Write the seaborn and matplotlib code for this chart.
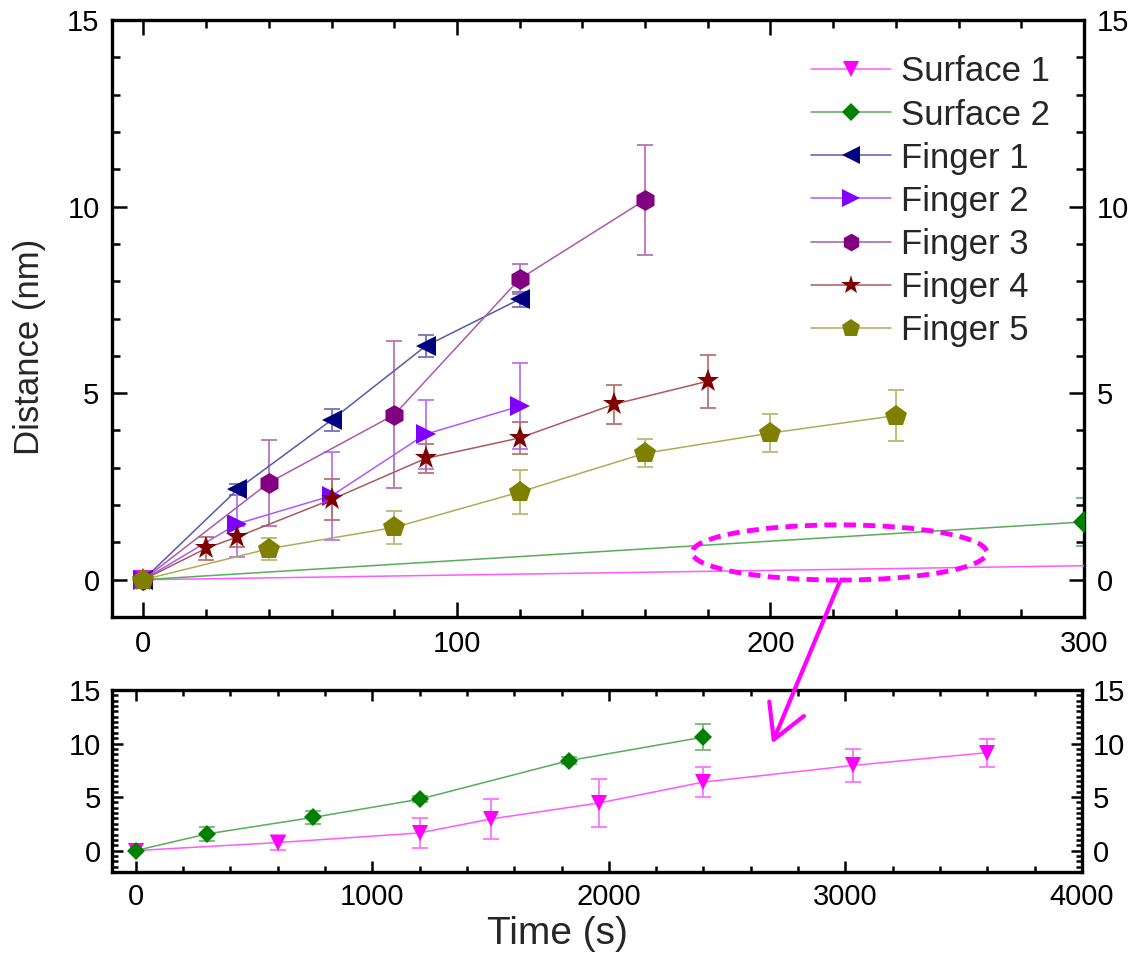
import seaborn as sns
import matplotlib.pyplot as plt
import matplotlib.colors as mcolors
from matplotlib.patches import Ellipse, ConnectionPatch
from matplotlib.ticker import MultipleLocator

# surface data (long time scale, s / nm)
surf1_t = [0, 600, 1200, 1500, 1960, 2400, 3030, 3600]
surf1_d = [0, 0.75, 1.65, 2.95, 4.45, 6.4, 7.95, 9.15]
surf1_err = [0, 0.7, 1.4, 1.85, 2.2, 1.4, 1.5, 1.3]

surf2_t = [0, 300, 750, 1200, 1830, 2400]
surf2_d = [0, 1.55, 3.1, 4.8, 8.4, 10.6]
surf2_err = [0, 0.65, 0.6, 0.3, 0.3, 1.2]

# finger data (short time scale)
f1_t = [0, 30, 60, 90, 120]
f1_d = [0, 2.42, 4.28, 6.26, 7.52]
f1_err = [0, 0.15, 0.3, 0.3, 0.2]

f2_t = [0, 30, 60, 90, 120]
f2_d = [0, 1.5, 2.25, 3.9, 4.65]
f2_err = [0, 0.9, 1.18, 0.93, 1.15]

f3_t = [0, 40, 80, 120, 160]
f3_d = [0, 2.6, 4.42, 8.06, 10.18]
f3_err = [0, 1.15, 1.97, 0.4, 1.48]

f4_t = [0, 20, 30, 60, 90, 120, 150, 180]
f4_d = [0, 0.84, 1.15, 2.15, 3.25, 3.8, 4.7, 5.32]
f4_err = [0, 0.3, 0.28, 0.55, 0.39, 0.42, 0.53, 0.71]

f5_t = [0, 40, 80, 120, 160, 200, 240]
f5_d = [0, 0.83, 1.4, 2.35, 3.39, 3.93, 4.4]
f5_err = [0, 0.3, 0.43, 0.6, 0.37, 0.51, 0.68]

series = [
    ("Surface 1", surf1_t, surf1_d, surf1_err, "#FF00FF", "v", 14),
    ("Surface 2", surf2_t, surf2_d, surf2_err, "#008000", "D", 11),
    ("Finger 1", f1_t, f1_d, f1_err, "#000080", "<", 15),
    ("Finger 2", f2_t, f2_d, f2_err, "#8000FF", ">", 15),
    ("Finger 3", f3_t, f3_d, f3_err, "#800080", "h", 15),
    ("Finger 4", f4_t, f4_d, f4_err, "#800000", "*", 17),
    ("Finger 5", f5_t, f5_d, f5_err, "#808000", "p", 16),
]

sns.set_theme(style="ticks")
plt.rcParams['font.family'] = ['Liberation Sans', 'DejaVu Sans']

fig = plt.figure(figsize=(11.35, 9.55), dpi=100)
ax = fig.add_axes([0.0987, 0.3539, 0.8564, 0.6251])
ax2 = fig.add_axes([0.0987, 0.0869, 0.8546, 0.1906])


def light(c, f=0.45):
    r, g, b = mcolors.to_rgb(c)
    return (r + (1 - r) * f, g + (1 - g) * f, b + (1 - b) * f)


def draw(a, name, t, d, e, c, m, ms, label=True):
    a.errorbar(t, d, yerr=e, fmt='none', ecolor=light(c), elinewidth=1.3,
               capsize=6, capthick=1.3, zorder=2)
    sns.lineplot(x=t, y=d, ax=a, color=c, marker=m, markersize=ms,
                 markeredgewidth=0, linewidth=1.1,
                 label=name if label else None, legend=False, zorder=3)
    ln = a.lines[-1]
    ln.set_color(light(c, 0.35))
    ln.set_markerfacecolor(c)
    ln.set_markeredgecolor(c)


for name, t, d, e, c, m, ms in series:
    draw(ax, name, t, d, e, c, m, ms)

for name, t, d, e, c, m, ms in series[:2]:
    draw(ax2, name, t, d, e, c, m, ms * 0.85, label=False)

# top axes
ax.set_xlim(-10, 300)
ax.set_ylim(-1, 15)
ax.xaxis.set_major_locator(MultipleLocator(100))
ax.xaxis.set_minor_locator(MultipleLocator(20))
ax.yaxis.set_major_locator(MultipleLocator(5))
ax.yaxis.set_minor_locator(MultipleLocator(1))
ax.tick_params(which='both', direction='in', top=True, right=True,
               labelright=True, labelsize=21, width=1.8, colors='black', pad=9)
ax.tick_params(which='major', length=11)
ax.tick_params(which='minor', length=6)
ax.set_xlabel("")
ax.set_ylabel("Distance (nm)", fontsize=25)
ax.yaxis.set_label_coords(-0.068, 0.452)

# bottom axes
ax2.set_xlim(-100, 4000)
ax2.set_ylim(-2, 15)
ax2.xaxis.set_major_locator(MultipleLocator(1000))
ax2.xaxis.set_minor_locator(MultipleLocator(200))
ax2.yaxis.set_major_locator(MultipleLocator(5))
ax2.yaxis.set_minor_locator(MultipleLocator(0.5))
ax2.tick_params(which='both', direction='in', top=True, right=True,
                labelright=True, labelsize=21, width=1.8, colors='black', pad=8)
ax2.tick_params(which='major', length=8)
ax2.tick_params(which='minor', length=4)
ax2.set_xlabel("Time (s)", fontsize=28)
ax2.xaxis.set_label_coords(0.459, -0.24)
ax2.set_ylabel("")

for a in (ax, ax2):
    for s in a.spines.values():
        s.set_linewidth(2.4)
        s.set_color('black')

leg = ax.legend(loc='upper left', bbox_to_anchor=(0.705, 0.964), frameon=False,
                fontsize=25, handlelength=2.3, handletextpad=0.3,
                labelspacing=0.29, markerscale=0.85, borderaxespad=0)

# zoom marker: dashed ellipse and arrow to the lower panel
ax.add_patch(Ellipse((222, 0.73), width=94, height=1.48, fill=False,
                     edgecolor='#FF00FF', linewidth=3.5,
                     linestyle=(0, (2.5, 1.5)), zorder=5))
arrow = ConnectionPatch(xyA=(222, -0.07), coordsA=ax.transData,
                        xyB=(2690, 10.0), coordsB=ax2.transData,
                        arrowstyle='->,head_length=0.8,head_width=0.45',
                        mutation_scale=30, color='#FF00FF', linewidth=3)
fig.add_artist(arrow)

fig.savefig("out.png", dpi=100)
